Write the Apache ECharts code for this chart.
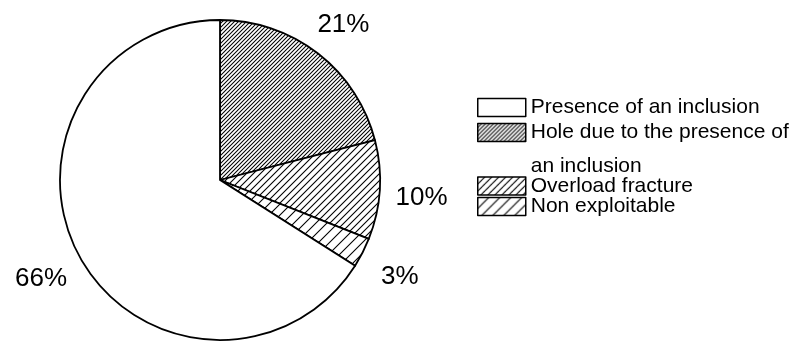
<!DOCTYPE html>
<html>
<head>
<meta charset="utf-8">
<script src="https://cdn.jsdelivr.net/npm/echarts@6/dist/echarts.min.js"></script>
<style>
html,body{margin:0;padding:0;background:#fff;}
#chart{width:796px;height:341px;}
</style>
</head>
<body>
<div id="chart"></div>
<script>
// Slices in clockwise order from 12 o'clock
const sliceNames = ['Hole due to the presence of\nan inclusion', 'Overload fracture', 'Non exploitable', 'Presence of an inclusion'];
const sliceValues = [21, 10, 3, 66];
// Legend order
const legendNames = ['Presence of an inclusion', 'Hole due to the presence of\nan inclusion', 'Overload fracture', 'Non exploitable'];

function hatch(s, w) {
  const c = document.createElement('canvas');
  c.width = s; c.height = s;
  const g = c.getContext('2d');
  g.fillStyle = '#fff'; g.fillRect(0, 0, s, s);
  g.strokeStyle = '#000'; g.lineWidth = w;
  g.beginPath();
  g.moveTo(0, s); g.lineTo(s, 0);
  g.moveTo(-s, s); g.lineTo(s, -s);
  g.moveTo(0, 2 * s); g.lineTo(2 * s, 0);
  g.stroke();
  return { image: c, repeat: 'repeat' };
}
const fills = {
  'Hole due to the presence of\nan inclusion': hatch(4, 1.05),
  'Overload fracture': hatch(7, 1.1),
  'Non exploitable': hatch(11, 1.1),
  'Presence of an inclusion': '#ffffff'
};

const pieData = sliceNames.map((n, i) => ({ name: n, value: sliceValues[i], itemStyle: { color: fills[n] } }));
const ghostData = sliceNames.map((n, i) => ({
  name: n, value: sliceValues[i],
  label: { offset: n === 'Presence of an inclusion' ? [-1, 1] : [-1, 5] }
}));

const font = '"Liberation Sans", Arial, sans-serif';
function legendFor(name, top, extra) {
  return Object.assign({
    data: [name],
    left: 477,
    top: top,
    orient: 'vertical',
    padding: 0,
    icon: 'rect',
    itemWidth: 48,
    itemHeight: 18,
    selectedMode: false,
    itemStyle: { borderColor: '#000', borderWidth: 1.5 },
    textStyle: { fontFamily: font, fontSize: 21, color: '#000', lineHeight: 18 }
  }, extra || {});
}

const chart = echarts.init(document.getElementById('chart'), null, { renderer: 'canvas' });
chart.setOption({
  animation: false,
  backgroundColor: '#fff',
  legend: [
    legendFor(legendNames[0], 97),
    legendFor(legendNames[1], 81.5, {
      formatter: n => '\n' + n,
      textStyle: { fontFamily: font, fontSize: 21, color: '#000', lineHeight: 34 }
    }),
    legendFor(legendNames[2], 175.5),
    legendFor(legendNames[3], 196)
  ],
  series: [
    {
      type: 'pie',
      center: [220, 180],
      radius: [0, 160],
      startAngle: 90,
      clockwise: true,
      silent: true,
      label: { show: false },
      labelLine: { show: false },
      itemStyle: { borderColor: '#000', borderWidth: 1.8 },
      emphasis: { disabled: true },
      data: pieData
    },
    {
      type: 'pie',
      center: [220, 180],
      radius: [160, 240],
      startAngle: 90,
      clockwise: true,
      silent: true,
      itemStyle: { color: 'rgba(0,0,0,0)', borderWidth: 0 },
      label: {
        show: true, position: 'inside', rotate: 0,
        formatter: '{c}%', fontFamily: font, fontSize: 26, color: '#000'
      },
      labelLine: { show: false },
      emphasis: { disabled: true },
      data: ghostData
    }
  ]
});
</script>
</body>
</html>
